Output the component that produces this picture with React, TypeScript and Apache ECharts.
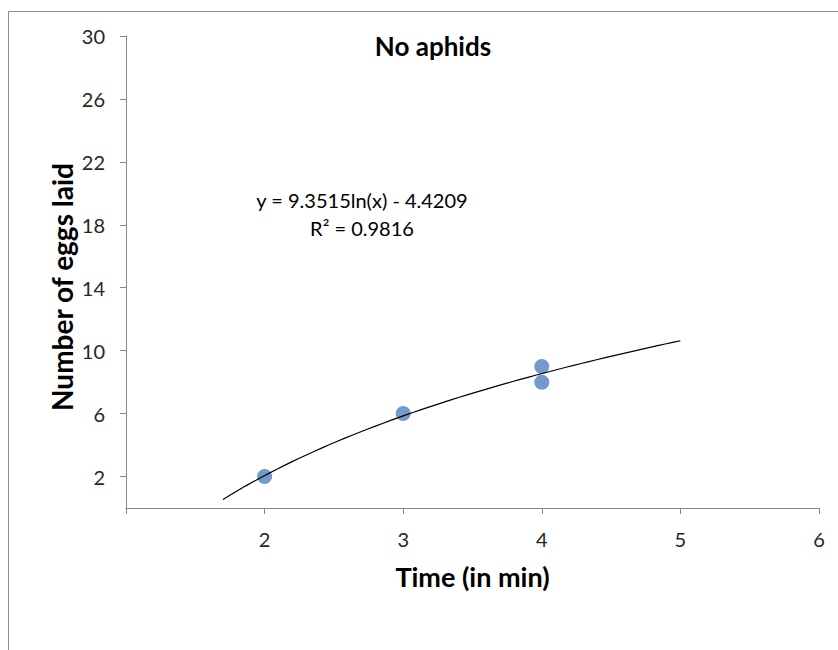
import React, { useEffect, useRef } from "react";
import * as echarts from "echarts";

const xValues = [2, 3, 4, 4];
const yValues = [2, 6, 9, 8];
const xTicks = [1, 2, 3, 4, 5, 6];
const yTicks = [2, 6, 10, 14, 18, 22, 26, 30];
const trendCoefA = 9.3515;
const trendCoefB = -4.4209;
const trendStart = 1.7;
const trendEnd = 5;
const equationText = "y = 9.3515ln(x) - 4.4209";
const r2Text = "R² = 0.9816";

const FONT = "Lato, 'Open Sans', sans-serif";

export default function App() {
  const ref = useRef<HTMLDivElement>(null);
  useEffect(() => {
    if (!ref.current) return;
    const chart = echarts.init(ref.current, null, { renderer: "svg" });
    const points = xValues.map((x, i) => [x, yValues[i]]);
    const trend: number[][] = [];
    const steps = 60;
    for (let i = 0; i <= steps; i++) {
      const x = trendStart + ((trendEnd - trendStart) * i) / steps;
      trend.push([x, trendCoefA * Math.log(x) + trendCoefB]);
    }
    chart.setOption({
      animation: false,
      backgroundColor: "#ffffff",
      grid: { left: 126, top: 36, right: 19, bottom: 142, containLabel: false },
      title: {
        text: "No aphids",
        left: 428,
        top: 28,
        textAlign: "center",
        textStyle: { fontFamily: FONT, fontSize: 26, fontWeight: "bold", color: "#000" },
      },
      xAxis: {
        type: "value",
        min: 1,
        max: 6,
        interval: 1,
        name: "Time (in min)",
        nameLocation: "middle",
        nameGap: 55,
        nameTextStyle: { fontFamily: FONT, fontSize: 27, fontWeight: "bold", color: "#000" },
        axisLine: { show: true, onZero: false, lineStyle: { color: "#868686", width: 1 } },
        axisTick: { show: true, length: 6, customValues: xTicks, lineStyle: { color: "#868686" } },
        axisLabel: {
          customValues: xTicks.filter((v) => v !== 1),
          margin: 21,
          fontFamily: FONT,
          fontSize: 20,
          color: "#262626",
        },
        splitLine: { show: false },
      },
      yAxis: {
        type: "value",
        min: 0,
        max: 30,
        axisLine: { show: true, onZero: false, lineStyle: { color: "#868686", width: 1 } },
        axisTick: { show: true, length: 6, customValues: yTicks, lineStyle: { color: "#868686" } },
        axisLabel: {
          customValues: yTicks,
          margin: 21,
          fontFamily: FONT,
          fontSize: 20,
          color: "#262626",
        },
        splitLine: { show: false },
      },
      graphic: [
        {
          type: "rect",
          shape: { x: 8.5, y: 11.5, width: 860, height: 680 },
          style: { fill: "none", stroke: "#8c8c8c", lineWidth: 1 },
          silent: true,
        },
        {
          type: "text",
          x: 62,
          y: 287,
          rotation: Math.PI / 2,
          style: {
            text: "Number of eggs laid",
            font: `bold 28px ${FONT}`,
            fill: "#000",
            textAlign: "center",
            textVerticalAlign: "middle",
          },
        },
        {
          type: "text",
          x: 362,
          y: 200,
          style: {
            text: equationText,
            font: `20px ${FONT}`,
            fill: "#000",
            textAlign: "center",
            textVerticalAlign: "middle",
          },
        },
        {
          type: "text",
          x: 362,
          y: 228,
          style: {
            text: r2Text,
            font: `20px ${FONT}`,
            fill: "#000",
            textAlign: "center",
            textVerticalAlign: "middle",
          },
        },
      ],
      series: [
        {
          type: "line",
          data: trend,
          showSymbol: false,
          smooth: false,
          lineStyle: { color: "#000", width: 1.2 },
          silent: true,
          z: 3,
        },
        {
          type: "scatter",
          data: points,
          symbol: "circle",
          symbolSize: 15,
          itemStyle: { color: "#4f81bd" },
          z: 2,
        },
      ],
    });
    return () => chart.dispose();
  }, []);
  return (
    <div
      ref={ref}
      style={{ position: "absolute", left: 0, top: 0, width: 838, height: 650 }}
    />
  );
}
